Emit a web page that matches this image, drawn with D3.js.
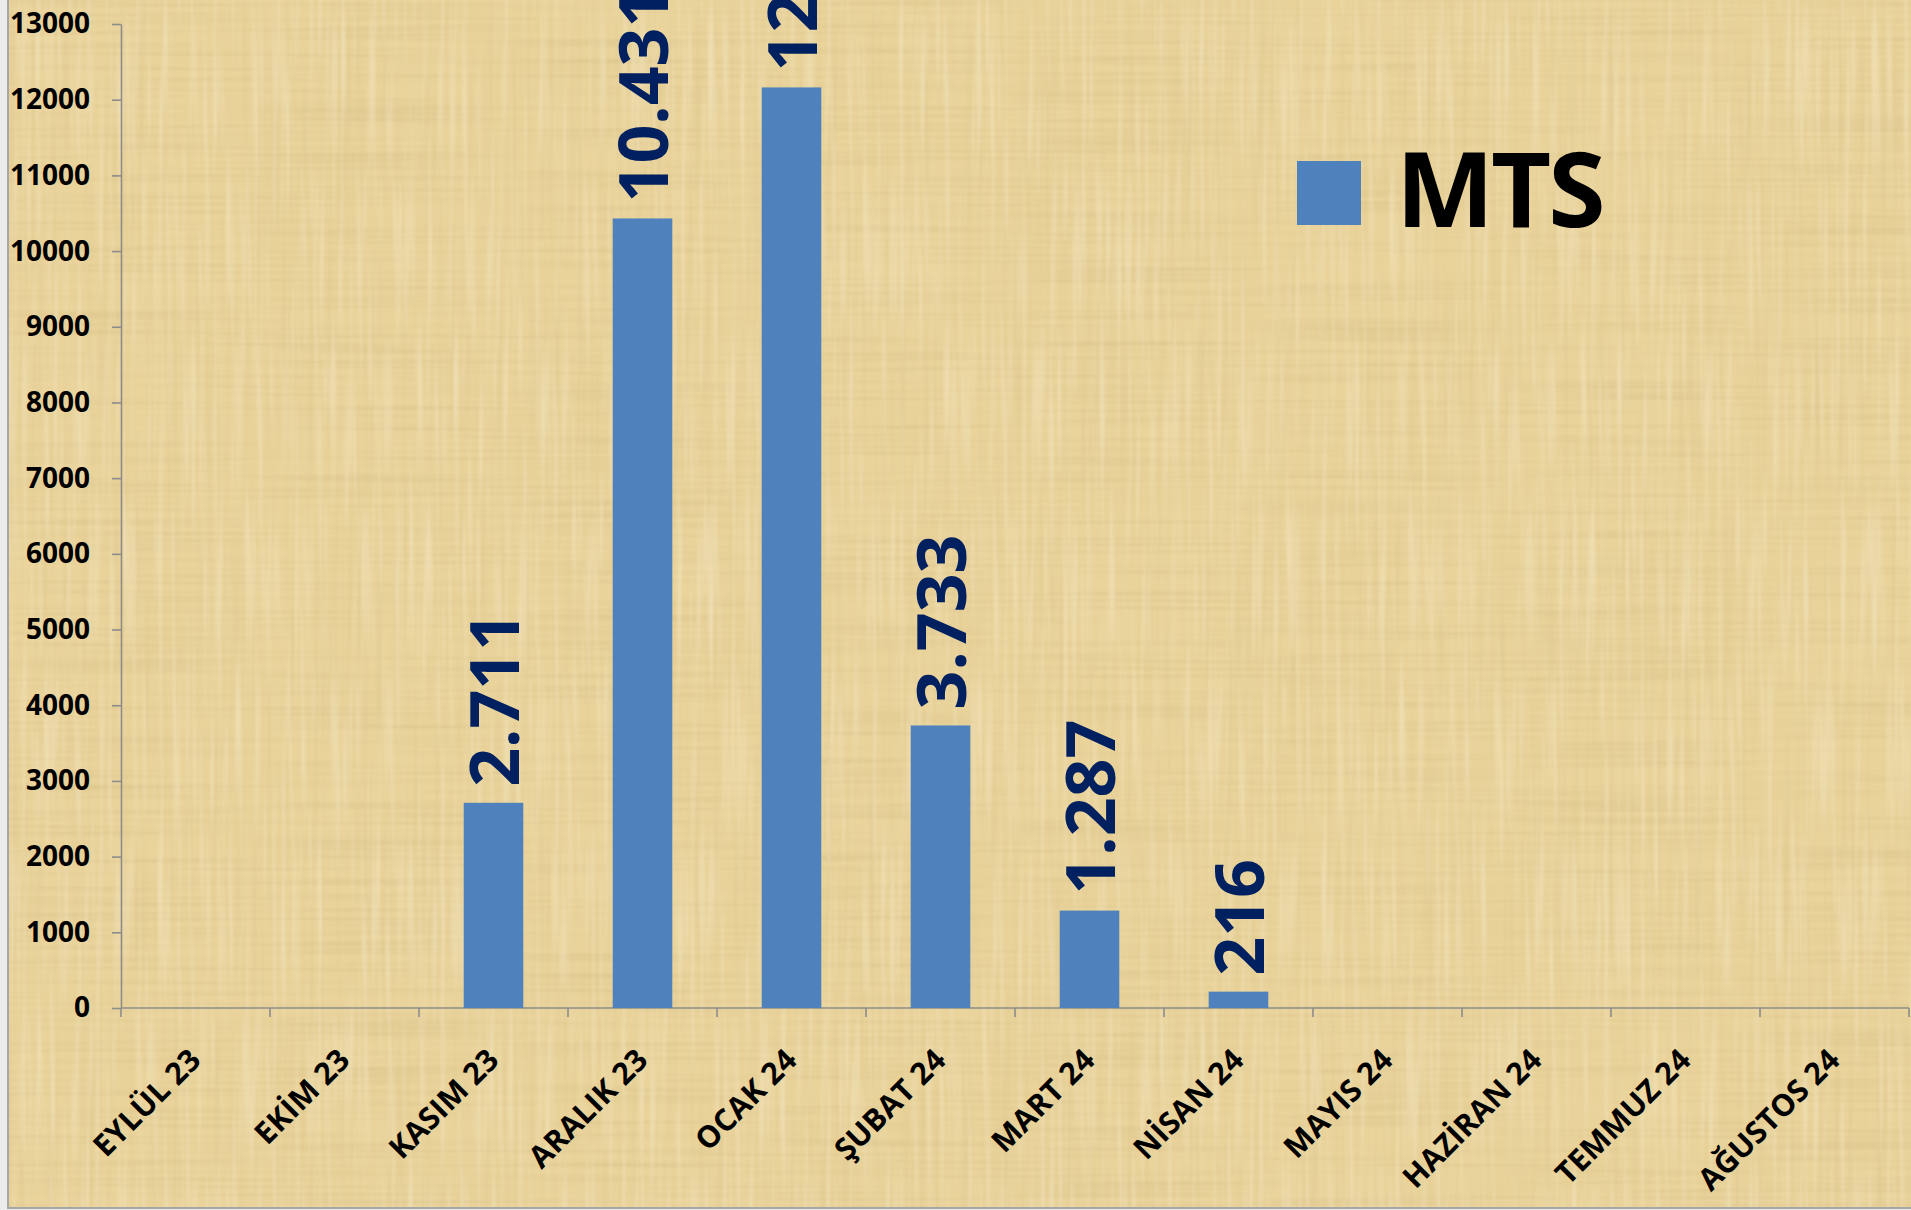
<!DOCTYPE html>
<html lang="tr">
<head>
<meta charset="utf-8">
<title>MTS</title>
<script src="https://cdn.jsdelivr.net/npm/d3@7"></script>
<style>
  html, body { margin: 0; padding: 0; background: #eeeeee; }
  svg { display: block; }
  text { font-family: "Open Sans", "Noto Sans", "Liberation Sans", sans-serif; font-weight: 700; }
</style>
</head>
<body>
<svg id="chart" width="1911" height="1210"></svg>
<script>
// Monthly MTS counts
const months = ["EYLÜL 23", "EKİM 23", "KASIM 23", "ARALIK 23", "OCAK 24", "ŞUBAT 24",
                "MART 24", "NİSAN 24", "MAYIS 24", "HAZİRAN 24", "TEMMUZ 24", "AĞUSTOS 24"];
const mtsValues = [null, null, 2711, 10431, 12162, 3733, 1287, 216, null, null, null, null];
const yTicks = [0, 1000, 2000, 3000, 4000, 5000, 6000, 7000, 8000, 9000, 10000, 11000, 12000, 13000];
const seriesName = "MTS";

const W = 1911, H = 1210;
const svg = d3.select("#chart");
const defs = svg.append("defs");

// Papyrus-like fibre texture built from stretched noise
const f = defs.append("filter").attr("id", "papyrus")
  .attr("x", 0).attr("y", 0).attr("width", 1).attr("height", 1)
  .attr("filterUnits", "objectBoundingBox");
f.append("feTurbulence").attr("type", "fractalNoise").attr("baseFrequency", "0.28 0.004")
  .attr("numOctaves", 2).attr("seed", 4).attr("result", "v");
f.append("feColorMatrix").attr("in", "v").attr("type", "matrix")
  .attr("values", "0 0 0 0 0.62  0 0 0 0 0.47  0 0 0 0 0.20  2.0 0 0 0 -1.02").attr("result", "vd");
f.append("feTurbulence").attr("type", "fractalNoise").attr("baseFrequency", "0.004 0.28")
  .attr("numOctaves", 2).attr("seed", 11).attr("result", "h");
f.append("feColorMatrix").attr("in", "h").attr("type", "matrix")
  .attr("values", "0 0 0 0 0.62  0 0 0 0 0.47  0 0 0 0 0.20  2.4 0 0 0 -1.08").attr("result", "hd");
f.append("feTurbulence").attr("type", "fractalNoise").attr("baseFrequency", "0.22 0.006")
  .attr("numOctaves", 2).attr("seed", 23).attr("result", "vl");
f.append("feColorMatrix").attr("in", "vl").attr("type", "matrix")
  .attr("values", "0 0 0 0 1  0 0 0 0 0.96  0 0 0 0 0.84  2.0 0 0 0 -1.02").attr("result", "vld");
f.append("feTurbulence").attr("type", "fractalNoise").attr("baseFrequency", "0.007")
  .attr("numOctaves", 3).attr("seed", 2).attr("result", "b");
f.append("feColorMatrix").attr("in", "b").attr("type", "matrix")
  .attr("values", "0 0 0 0 0.80  0 0 0 0 0.64  0 0 0 0 0.30  1.8 0 0 0 -0.85").attr("result", "bd");
const fm = f.append("feMerge").attr("result", "m");
["bd", "vd", "hd", "vld"].forEach(k => fm.append("feMergeNode").attr("in", k));
f.append("feGaussianBlur").attr("in", "m").attr("stdDeviation", 0.8);

// Page surround and papyrus panel
svg.append("rect").attr("x", 0).attr("y", 0).attr("width", W).attr("height", H).attr("fill", "#ececec");
svg.append("rect").attr("x", 8).attr("y", 0).attr("width", W - 8).attr("height", 1208).attr("fill", "#EAD49C");
svg.append("rect").attr("x", 8).attr("y", 0).attr("width", W - 8).attr("height", 1208)
  .attr("fill", "#000").attr("filter", "url(#papyrus)").attr("opacity", 0.4);
svg.append("path").attr("d", `M8,0V1208H${W}`).attr("fill", "none")
  .attr("stroke", "#a6a6a6").attr("stroke-width", 2);

// Scales
const x = d3.scaleBand().domain(months).range([121, 1909]).paddingInner(0.6).paddingOuter(0.3);
const y = d3.scaleLinear().domain([0, 13000]).range([1008, 24]);

const axisColor = "#8c8c8c";

// Y axis
const yAxis = svg.append("g").attr("transform", "translate(121,0)")
  .call(d3.axisLeft(y).tickValues(yTicks).tickFormat(d3.format("d")).tickSizeInner(9).tickSizeOuter(0).tickPadding(22));
yAxis.select(".domain").attr("stroke", axisColor).attr("stroke-width", 1.6);
yAxis.selectAll(".tick line").attr("stroke", axisColor).attr("stroke-width", 1.6);
yAxis.selectAll(".tick text").attr("fill", "#000").attr("font-size", 28)
  .style("font-family", "'Open Sans', sans-serif").style("font-weight", 700);

// X axis: line, tick marks between categories, rotated labels
const step = x.step();
const x0 = x.range()[0];
const boundaries = d3.range(months.length + 1).map(i => x0 + i * step);
const xg = svg.append("g");
xg.append("line").attr("x1", x0).attr("x2", x.range()[1]).attr("y1", y(0)).attr("y2", y(0))
  .attr("stroke", axisColor).attr("stroke-width", 1.6);
xg.selectAll("line.tk").data(boundaries).join("line").attr("class", "tk")
  .attr("x1", d => d).attr("x2", d => d).attr("y1", y(0)).attr("y2", y(0) + 9)
  .attr("stroke", axisColor).attr("stroke-width", 1.6);
xg.selectAll("text").data(months).join("text")
  .attr("transform", d => `translate(${x(d) + x.bandwidth() / 2 + 7},${y(0) + 54}) rotate(-45)`)
  .attr("text-anchor", "end").attr("font-size", 30.5).attr("fill", "#000")
  .text(d => d);

// Bars
const data = months.map((m, i) => ({ m, v: mtsValues[i] })).filter(d => d.v != null);
svg.append("g").selectAll("rect").data(data).join("rect")
  .attr("x", d => x(d.m)).attr("width", x.bandwidth())
  .attr("y", d => y(d.v)).attr("height", d => y(0) - y(d.v))
  .attr("fill", "#4F81BD");

// Value labels (Turkish thousands separator)
const tr = d3.formatLocale({ decimal: ",", thousands: ".", grouping: [3], currency: ["", "₺"] });
const fmt = tr.format(",d");
svg.append("g").selectAll("text").data(data).join("text")
  .attr("transform", d => `translate(${x(d.m) + x.bandwidth() / 2},${y(d.v) - 16}) rotate(-90)`)
  .attr("dy", 25).attr("text-anchor", "start")
  .attr("font-size", 68).attr("fill", "#002060")
  .text(d => fmt(d.v));

// Legend
const lg = svg.append("g");
lg.append("rect").attr("x", 1297).attr("y", 161).attr("width", 64).attr("height", 64).attr("fill", "#4F81BD");
lg.append("text").attr("x", 1396).attr("y", 227).attr("font-size", 104).attr("letter-spacing", -3)
  .attr("fill", "#000").text(seriesName);
</script>
</body>
</html>
